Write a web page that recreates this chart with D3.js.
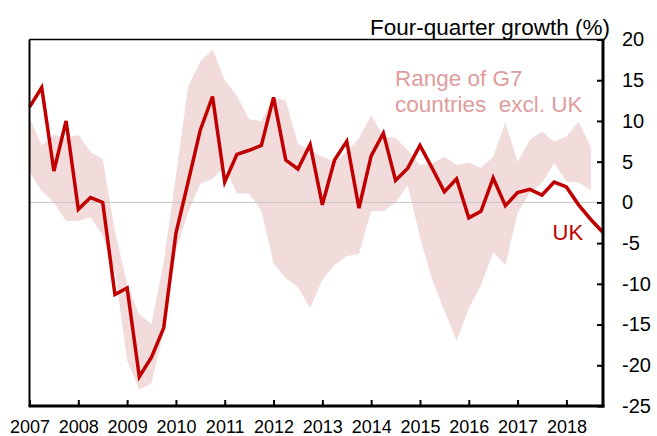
<!DOCTYPE html>
<html>
<head>
<meta charset="utf-8">
<script src="https://cdn.jsdelivr.net/npm/d3@7"></script>
<style>
  html, body { margin: 0; padding: 0; background: #fff; }
  svg { display: block; font-family: Arial, "Liberation Sans", sans-serif; }
</style>
</head>
<body>
<svg id="chart" width="657" height="436"></svg>
<script>
// ---- Data ----
const years = [2007, 2008, 2009, 2010, 2011, 2012, 2013, 2014, 2015, 2016, 2017, 2018];
const quarterNames = ["Q1", "Q2", "Q3", "Q4"];
const yearLabels = ["2007", "2008", "2009", "2010", "2011", "2012", "2013", "2014", "2015", "2016", "2017", "2018"];
const yTicks = [20, 15, 10, 5, 0, -5, -10, -15, -20, -25];
const yTickLabels = ["20", "15", "10", "5", "0", "-5", "-10", "-15", "-20", "-25"];

// UK four-quarter growth (%), 2007Q1 - 2018Q4
const ukGrowth = [
  11.7, 14.1, 3.85, 10.0, -0.85, 0.6, 0.0, -11.3, -10.5, -21.4, -19.0, -15.4,
  -3.8, 2.5, 8.9, 13.0, 2.5, 5.9, 6.4, 7.0, 12.9, 5.2, 4.1, 7.1,
  -0.3, 5.2, 7.5, -0.7, 5.7, 8.5, 2.7, 4.2, 7.0, 4.2, 1.3, 2.9,
  -1.9, -1.1, 3.0, -0.4, 1.2, 1.6, 0.9, 2.5, 1.9, -0.3, -2.1, -3.7
];
// Range of G7 countries excl. UK, 2007Q1 - 2018Q3
const g7Max = [
  10.4, 7.0, 8.3, 7.9, 8.3, 6.2, 5.3, -3.5, -10.0, -13.8, -14.9, -7.3,
  3.3, 14.2, 17.3, 18.8, 15.0, 13.1, 10.2, 10.0, 12.8, 12.5, 7.2, 6.4,
  5.6, 5.0, 6.2, 7.9, 10.7, 8.1, 7.9, 6.4, 4.6, 4.8, 5.6, 4.6,
  4.9, 4.25, 5.6, 9.8, 5.0, 7.65, 8.7, 7.4, 8.1, 9.9, 6.8
];
const g7Min = [
  3.76, 1.4, 0.0, -2.27, -2.3, -1.8, -4.1, -8.5, -19.4, -23.0, -22.2, -15.8,
  -6.0, -1.2, 2.3, 2.9, 4.4, 1.1, 1.1, -1.0, -7.5, -9.3, -10.4, -13.0,
  -9.5, -7.7, -6.6, -6.3, -1.05, -1.05, 0.0, 2.1, -4.3, -9.5, -13.3, -17.0,
  -13.0, -10.2, -6.1, -7.7, -1.3, 1.2, 2.4, 4.8, 2.6, 2.4, 1.5
];

const quarters = [];
years.forEach(yr => quarterNames.forEach(q => quarters.push(yr + " " + q)));

// ---- Layout ----
const svg = d3.select("#chart");
const plotL = 29.5, plotR = 603, plotT = 39.5, plotB = 406;

const x = d3.scalePoint().domain(quarters).range([plotL, plotR]).padding(0);
const y = d3.scaleLinear().domain([-25, 20]).range([plotB, plotT]);

const bandColor = "#f2dbdb";
const lineColor = "#c00000";

// band
const bandData = g7Max.map((v, i) => ({ q: quarters[i], hi: v, lo: g7Min[i] }));
svg.append("path")
  .datum(bandData)
  .attr("fill", bandColor)
  .attr("d", d3.area().x(d => x(d.q)).y0(d => y(d.lo)).y1(d => y(d.hi)));

// zero line
svg.append("line")
  .attr("x1", plotL).attr("x2", plotR)
  .attr("y1", y(0)).attr("y2", y(0))
  .attr("stroke", "#c4c4c4").attr("stroke-width", 1);

// UK line
const ukData = ukGrowth.map((v, i) => ({ q: quarters[i], v }));
svg.append("path")
  .datum(ukData)
  .attr("fill", "none")
  .attr("stroke", lineColor)
  .attr("stroke-width", 3.5)
  .attr("stroke-linejoin", "miter")
  .attr("d", d3.line().x(d => x(d.q)).y(d => y(d.v)));

// frame: left and top
svg.append("line").attr("x1", plotL).attr("x2", plotL).attr("y1", plotT).attr("y2", plotB)
  .attr("stroke", "#000").attr("stroke-width", 2);
svg.append("line").attr("x1", plotL).attr("x2", plotR).attr("y1", plotT).attr("y2", plotT)
  .attr("stroke", "#000").attr("stroke-width", 1.5);

// bottom axis
const xAxis = d3.axisBottom(x)
  .tickValues(years.map(yr => yr + " Q1"))
  .tickFormat((d, i) => yearLabels[i])
  .tickSizeInner(-6).tickSizeOuter(0).tickPadding(14);
const gx = svg.append("g").attr("transform", `translate(0,${plotB})`).call(xAxis);
gx.select(".domain").attr("stroke", "#000").attr("stroke-width", 3)
  .attr("d", `M${plotL - 1},0H${plotR + 1.5}`);
gx.selectAll(".tick line").attr("stroke", "#000").attr("stroke-width", 2);
gx.selectAll(".tick text").attr("font-size", 18).attr("fill", "#000")
  .attr("font-family", "Arial, 'Liberation Sans', sans-serif");

// right axis
const yAxis = d3.axisRight(y).tickValues(yTicks)
  .tickFormat((d, i) => yTickLabels[i])
  .tickSizeInner(-6).tickSizeOuter(0).tickPadding(19);
const gy = svg.append("g").attr("transform", `translate(${plotR},0)`).call(yAxis);
gy.select(".domain").attr("stroke", "#000").attr("stroke-width", 3)
  .attr("d", `M0,${plotT - 0.75}V${plotB + 1.5}`);
gy.selectAll(".tick line").attr("stroke", "#000").attr("stroke-width", 2);
gy.selectAll(".tick text").attr("font-size", 20).attr("fill", "#000")
  .attr("font-family", "Arial, 'Liberation Sans', sans-serif");

// title
svg.append("text")
  .attr("x", 610).attr("y", 34.5)
  .attr("text-anchor", "end")
  .attr("font-size", 22.5)
  .attr("fill", "#000")
  .text("Four-quarter growth (%)");

// range annotation
const rangeText = svg.append("text")
  .attr("font-size", 22.5)
  .attr("fill", "#df9c9c")
  .attr("xml:space", "preserve")
  .style("white-space", "pre");
rangeText.append("tspan").attr("x", 395).attr("y", 86).text("Range of G7");
rangeText.append("tspan").attr("x", 395).attr("y", 111.5).text("countries  excl. UK");

// UK label
svg.append("text")
  .attr("x", 552.5).attr("y", 240)
  .attr("font-size", 22)
  .attr("fill", lineColor)
  .text("UK");
</script>
</body>
</html>
